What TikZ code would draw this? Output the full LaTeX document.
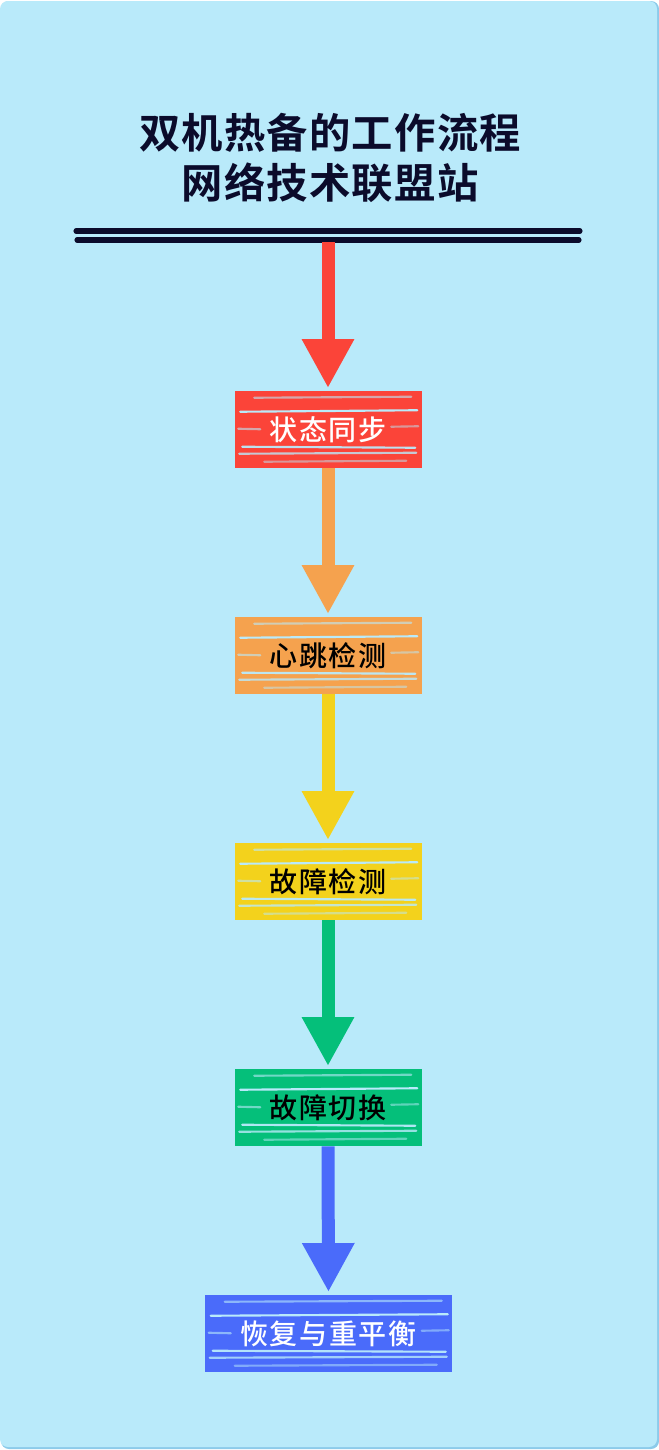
\documentclass[tikz,border=0pt]{standalone}
\usepackage{fontspec}
\setmainfont{Noto Sans CJK SC}
\newfontfamily\titlefont{Noto Sans CJK SC Bold}
\newfontfamily\boxfont{Noto Sans CJK SC Medium}
\usetikzlibrary{arrows.meta,positioning}
\definecolor{bgblue}{HTML}{B9EAFA}
\definecolor{shadowblue}{HTML}{8CCBEA}
\definecolor{ink}{HTML}{0B0B2B}
\definecolor{cred}{HTML}{FB4439}
\definecolor{corange}{HTML}{F5A24E}
\definecolor{cyellow}{HTML}{F3D21C}
\definecolor{cgreen}{HTML}{05BF7A}
\definecolor{cblue}{HTML}{4A6BFA}
\tikzset{
  streak/.style={draw=bgblue, line width=1.6pt, opacity=#1, line cap=round},
  stepbox/.style={fill=#1, draw=none, minimum width=140.25pt, minimum height=57.75pt,
    inner sep=0pt},
  steptext/.style={text=#1, inner sep=0pt,
    font=\boxfont\fontsize{21pt}{24pt}\selectfont\addfontfeature{LetterSpace=6}},
  flowarrow/.style={draw=#1, line width=9.75pt, shorten >=2pt,
    -{Triangle[length=36.75pt,width=36.75pt]}},
}
\begin{document}
\begin{tikzpicture}[x=0.75pt,y=-0.75pt]
\useasboundingbox (0,0) rectangle (659,1450);
\fill[white] (0,0) rectangle (659,1450);
\fill[shadowblue, rounded corners=6pt] (1,1) rectangle (659,1449);
\fill[bgblue, rounded corners=6pt] (0,1) rectangle (657,1447);

% title
\node[font=\titlefont\fontsize{31pt}{38pt}\selectfont\addfontfeature{LetterSpace=3}, text=ink, align=center] (title) at (330,158)
  {双机热备的工作流程\\网络技术联盟站};

% double rule
\coordinate (ruleL1) at (76,231);
\coordinate (ruleR1) at (580,231);
\coordinate (ruleL2) at (77,240);
\coordinate (ruleR2) at (579,240);
\draw[ink, line width=3.8pt, line cap=round] (ruleL1) -- (ruleR1);
\draw[ink, line width=3.8pt, line cap=round] (ruleL2) -- (ruleR2);
\coordinate (start) at (328,242);

% boxes
\node[stepbox=cred] (s1) at (328,429.5) {};
\node[stepbox=corange] (s2) at (328,655.5) {};
\node[stepbox=cyellow] (s3) at (328,881.5) {};
\node[stepbox=cgreen] (s4) at (328,1107.5) {};
\node[stepbox=cblue, minimum width=185.25pt] (s5) at (328.5,1333.5) {};

% sketchy streaks
\foreach \n/\w in {s1/187,s2/187,s3/187,s4/187,s5/247}{
  \begin{scope}[shift={(\n.north west)}]
    \draw[streak=0.6] (20,7) -- (\w-10,6);
    \draw[streak=1] (6,21) -- (\w-4,19.5);
    \draw[streak=0.6] (4,38) -- (26,38.5);
    \draw[streak=0.5] (\w-30,36) -- (\w-3,35.5);
    \draw[streak=0.95] (8,56) -- (\w-6,57);
    \draw[streak=0.8] (5,63) -- (\w-5,62);
    \draw[streak=0.5] (30,71) -- (\w-15,70);
  \end{scope}
}

% labels
\node[steptext=white] (t1) at (s1.center) {状态同步};
\node[steptext=black] (t2) at (s2.center) {心跳检测};
\node[steptext=black] (t3) at (s3.center) {故障检测};
\node[steptext=black] (t4) at (s4.center) {故障切换};
\node[steptext=white] (t5) at (s5.center) {恢复与重平衡};

% arrows
\draw[flowarrow=cred] (start) -- (s1.north);
\draw[flowarrow=corange] (s1.south) -- (s2.north);
\draw[flowarrow=cyellow] (s2.south) -- (s3.north);
\draw[flowarrow=cgreen] (s3.south) -- (s4.north);
\draw[flowarrow=cblue] (s4.south) -- (s5.north);
\end{tikzpicture}
\end{document}
